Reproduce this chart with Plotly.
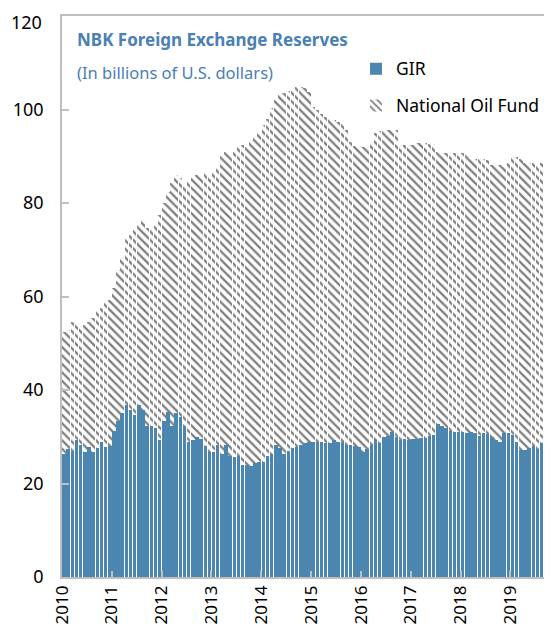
import plotly.graph_objects as go

years = ["2010", "2011", "2012", "2013", "2014", "2015", "2016", "2017", "2018", "2019"]
y_ticks = [0, 20, 40, 60, 80, 100, 120]

# Monthly GIR (billions USD), Jan 2010 - Oct 2019
gir = [
    26.3, 27.4, 27.0, 29.3, 28.2, 26.8, 27.9, 26.8, 27.7, 28.9, 27.9, 28.1,
    31.3, 33.4, 35.0, 36.8, 35.7, 34.7, 36.8, 35.7, 32.4, 32.4, 31.8, 29.3,
    33.4, 35.4, 32.4, 35.0, 34.3, 32.4, 28.9, 29.3, 30.0, 29.6, 28.1, 26.7,
    26.7, 28.2, 26.3, 28.2, 25.9, 25.7, 25.9, 24.0, 24.0, 23.7, 24.3, 24.7,
    24.5, 25.9, 26.3, 28.2, 27.5, 26.4, 27.0, 27.7, 27.9, 28.2, 28.7, 28.9,
    28.9, 28.9, 28.9, 28.6, 28.6, 29.2, 28.9, 28.9, 28.2, 28.2, 28.1, 27.9,
    26.7, 27.4, 28.2, 29.3, 28.6, 30.0, 30.1, 31.1, 30.0, 29.3, 29.6, 29.4,
    29.6, 29.6, 29.8, 29.8, 30.1, 30.4, 32.7, 32.3, 31.8, 31.3, 31.0, 31.0,
    31.1, 30.8, 31.1, 30.8, 30.1, 30.8, 30.6, 30.0, 29.3, 28.9, 30.8, 30.8,
    30.4, 28.9, 27.2, 27.1, 27.6, 28.0, 27.4, 28.6, 28.6, 29.2,
]

# Total reserves (GIR + National Oil Fund), billions USD
total = [
    52.5, 52.8, 54.6, 54.3, 53.6, 54.0, 54.6, 55.4, 57.1, 57.5, 58.6, 59.3,
    61.8, 65.7, 68.5, 72.4, 73.2, 74.2, 75.3, 76.4, 74.6, 74.9, 75.3, 77.4,
    80.0, 82.4, 84.2, 86.0, 85.3, 83.9, 84.6, 85.3, 86.0, 85.6, 86.7, 86.0,
    86.5, 88.0, 90.0, 91.0, 90.5, 91.0, 92.0, 92.4, 92.0, 93.5, 94.2, 95.0,
    96.7, 98.0, 100.3, 102.0, 103.0, 103.5, 104.0, 104.5, 104.8, 104.9, 104.5, 103.8,
    100.6, 100.0, 99.0, 98.5, 98.0, 97.8, 97.4, 97.0, 95.6, 93.0, 92.2, 92.2,
    92.0, 92.2, 93.1, 95.0, 95.5, 95.6, 95.6, 95.8, 95.6, 92.5, 92.4, 92.4,
    92.4, 92.8, 92.8, 92.8, 92.6, 92.6, 91.0, 90.7, 90.7, 90.5, 90.7, 90.7,
    90.7, 90.5, 89.4, 89.5, 89.4, 89.4, 89.2, 88.1, 88.0, 88.1, 87.8, 88.5,
    89.9, 89.9, 89.5, 88.5, 88.5, 88.5, 88.3, 88.5, 88.3, 89.0,
]

oil_fund = [round(t - g, 1) for t, g in zip(total, gir)]
months = [i + 0.5 for i in range(len(gir))]
year_ticks = [12 * k for k in range(len(years))]
# top tick label is drawn as an annotation so it stays inside the page
y_ticktext = [str(v) for v in y_ticks[:-1]] + [""]

FONT = "Noto Sans"
BLUE = "#4a86b0"
TITLE_BLUE = "#4a80b3"

fig = go.Figure()
fig.add_trace(go.Bar(
    x=months, y=gir, name="GIR", legendgroup="a",
    marker=dict(color=BLUE, line=dict(width=0)),
))
fig.add_trace(go.Bar(
    x=months, y=oil_fund, name="National Oil Fund", legendgroup="b",
    marker=dict(color="white", line=dict(width=0),
                pattern=dict(shape="\\", fgcolor="#000000", bgcolor="white",
                             size=6, solidity=0.38)),
))

# The page body adds an 8px offset, so the figure is sized to fill the rest.
fig.update_layout(
    width=544, height=625,
    margin=dict(l=54, r=0, t=8, b=56),
    barmode="stack", bargap=0.15,
    plot_bgcolor="white", paper_bgcolor="white",
    font=dict(family=FONT, color="black"),
    showlegend=True,
    legend=dict(x=0.60, y=0.938, xanchor="left", yanchor="top",
                traceorder="grouped", tracegroupgap=11,
                font=dict(size=17.5, family=FONT, color="black"),
                bgcolor="rgba(0,0,0,0)", itemwidth=30),
    xaxis=dict(range=[0, len(gir)], tickmode="array", tickvals=year_ticks,
               ticktext=years, tickangle=-90, ticks="inside", ticklen=6,
               tickcolor="#BFBFBF", tickwidth=1.5, automargin=False,
               showline=True, linecolor="#BFBFBF", linewidth=1.5, mirror=True,
               showgrid=False, zeroline=False, ticklabeloverflow="allow",
               tickfont=dict(size=17, family=FONT, color="black")),
    yaxis=dict(range=[0, 120], tickmode="array", tickvals=y_ticks,
               ticktext=y_ticktext,
               ticks="inside", ticklen=7, tickcolor="#BFBFBF", tickwidth=1.5,
               showline=True, linecolor="#BFBFBF", linewidth=1.5, mirror=False,
               showgrid=False, zeroline=False, ticklabelstandoff=13,
               automargin=False,
               tickfont=dict(size=18, family=FONT, color="black")),
    annotations=[
        dict(text=str(y_ticks[-1]), xref="paper", yref="paper",
             x=0, y=1.0143, xanchor="right", yanchor="top", xshift=-18,
             showarrow=False, font=dict(size=18, family=FONT, color="black")),
        dict(text="<b>NBK Foreign Exchange Reserves</b>", xref="paper", yref="paper",
             x=0.027, y=0.982, xanchor="left", yanchor="top", showarrow=False,
             font=dict(size=17, family=FONT, color=TITLE_BLUE)),
        dict(text="(In billions of U.S. dollars)", xref="paper", yref="paper",
             x=0.027, y=0.923, xanchor="left", yanchor="top", showarrow=False,
             font=dict(size=16.5, family=FONT, color=TITLE_BLUE)),
    ],
)

fig.write_html("out.html")
